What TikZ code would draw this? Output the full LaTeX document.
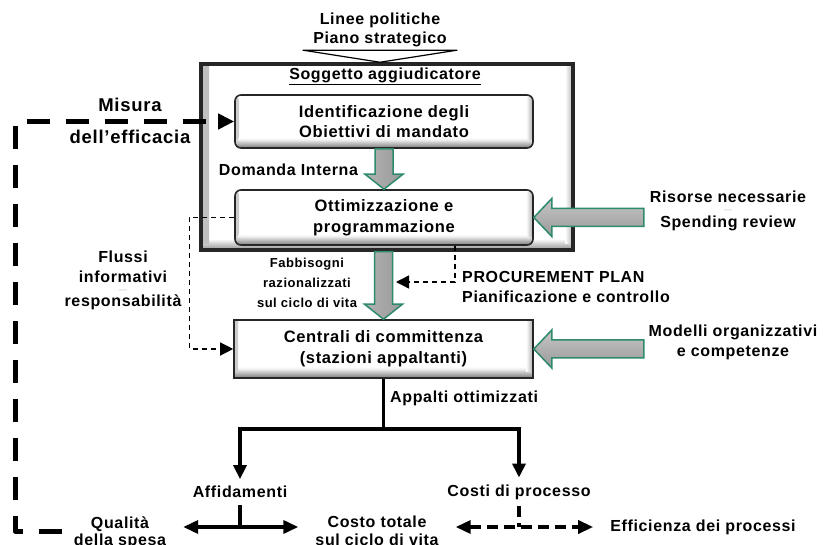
\documentclass[tikz,border=0pt]{standalone}
\usepackage{fontspec}
\setmainfont{Liberation Sans}[LetterSpace=4]
\usetikzlibrary{arrows.meta,calc}

\definecolor{arrowgreen}{RGB}{46,138,110}
\definecolor{boxline}{RGB}{38,38,38}

\pgfdeclareverticalshading{bevel}{100bp}{color(0bp)=(gray!95!black); color(25bp)=(gray!95!black); color(28bp)=(gray!70); color(33bp)=(gray!10); color(35bp)=(white); color(100bp)=(white)}
\pgfdeclareverticalshading{outerbevel}{100bp}{color(0bp)=(gray!85); color(25bp)=(gray!85); color(26.5bp)=(gray!45); color(28bp)=(white); color(100bp)=(white)}

\tikzset{
  lbl/.style={font=\bfseries\fontsize{16}{20}\selectfont, align=center, inner sep=1pt},
  smalllbl/.style={font=\bfseries\fontsize{13}{20}\selectfont, align=center, inner sep=1pt},
  tinydash/.style={font=\fontsize{8}{8}\selectfont, text=gray!50, inner sep=0pt},
  bevelbox/.style={draw=boxline, line width=1.6pt, rounded corners=6pt, shading=bevel,
    minimum width=298pt, align=center, font=\bfseries\fontsize{16.5}{20}\selectfont,
    path picture={
      \shade[left color=gray!40, right color=white] (path picture bounding box.north west) rectangle ([xshift=4pt,yshift=6pt]path picture bounding box.south west);
      \shade[left color=white, right color=gray!65] ([xshift=-7pt]path picture bounding box.north east) rectangle ([yshift=6pt]path picture bounding box.south east);}},
  outerbox/.style={draw=boxline, line width=3.5pt, shading=outerbevel, minimum width=372pt, minimum height=186pt,
    path picture={
      \shade[left color=gray!50, right color=white] (path picture bounding box.north west) rectangle ([xshift=8pt,yshift=6pt]path picture bounding box.south west);
      \shade[left color=white, right color=gray!60] ([xshift=-8pt]path picture bounding box.north east) rectangle ([yshift=6pt]path picture bounding box.south east);}},
  fatdown/.style={draw=arrowgreen, line width=1.5pt, left color=gray!60, middle color=gray!8, right color=gray!80,
    to path={($(\tikztostart)+(-9,0)$) -- ($(\tikztostart)+(9,0)$) -- ($(\tikztotarget)+(9,15)$) -- ($(\tikztotarget)+(19,15)$) -- (\tikztotarget) -- ($(\tikztotarget)+(-19,15)$) -- ($(\tikztotarget)+(-9,15)$) -- cycle}},
  fatleft/.style={draw=arrowgreen, line width=1.5pt, top color=gray!45, middle color=gray!8, bottom color=gray!80,
    to path={($(\tikztostart)+(0,9)$) -- ($(\tikztostart)+(0,-9)$) -- ($(\tikztotarget)+(18,-9)$) -- ($(\tikztotarget)+(18,-19)$) -- (\tikztotarget) -- ($(\tikztotarget)+(18,19)$) -- ($(\tikztotarget)+(18,9)$) -- cycle}},
  thindash/.style={line width=1.3pt, dash pattern=on 5pt off 4pt, -{Triangle[length=13pt,width=13pt]}},
  thickdash/.style={line width=5pt, dash pattern=on 23pt off 16pt, line join=round, -{Triangle[length=16pt,width=15pt]}},
  thickline/.style={line width=3.5pt},
  dashline/.style={line width=3.5pt, dash pattern=on 11pt off 6pt},
  downtip/.style={-{Triangle[length=14pt,width=13pt]}},
  bothtips/.style={{Triangle[length=15pt,width=13pt]}-{Triangle[length=15pt,width=13pt]}},
}

\begin{document}
\begin{tikzpicture}[x=1pt,y=1pt]
\path[use as bounding box, fill=white] (0,0) rectangle (825,544);

% top: soggetto aggiudicatore
\node[lbl, font=\bfseries\fontsize{16}{19}\selectfont] (linee) at (380,514) {Linee politiche\\Piano strategico};
\node[outerbox] (sogg) at (387,387) {};
\draw[line width=1.2pt, line join=round] ($(linee.south)+(-77,-2)$) -- ($(linee.south)+(77,-2)$) -- (linee.south |- sogg.north) -- cycle;
\node[lbl] (titolo) at (385,468) {\underline{Soggetto aggiudicatore}};
\node[bevelbox, minimum height=53pt] (box1) at (384,422.5) {Identificazione degli\\Obiettivi di mandato};
\node[bevelbox, minimum height=55pt, font=\bfseries\fontsize{16.5}{21}\selectfont] (box2) at (384,326.5) {Ottimizzazione e\\programmazione};
\node[bevelbox, sharp corners, minimum height=58pt, minimum width=299pt, font=\bfseries\fontsize{16.5}{21}\selectfont] (box3) at (383.5,195) {Centrali di committenza\\(stazioni appaltanti)};

% labels
\node[lbl] (domanda) at (288.5,374) {Domanda Interna};
\node[smalllbl] (fabb) at (307,261) {Fabbisogni\\razionalizzati\\sul ciclo di vita};
\node[lbl, align=left, anchor=west] (proc) at (461,257) {PROCUREMENT PLAN\\Pianificazione e controllo};
\node[lbl] (risorse) at (728,333.5) {Risorse necessarie\\[5pt]Spending review};
\node[tinydash] (risdash) at (728,333) {---};
\node[lbl] (modelli) at (733,202) {Modelli organizzativi\\e competenze};
\node[lbl] (flussi) at (123,264) {Flussi\\informativi\\[4pt]responsabilità};
\node[tinydash] (flussidash) at (123,253) {---};
\node[lbl, font=\bfseries\fontsize{18.5}{20}\selectfont] (misura) at (130,423) {Misura\\[12pt]dell’efficacia};

% green arrows
\draw[fatdown] (box1.south) to (box2.north);
\draw[fatdown] (box3.north |- sogg.south) to (box3.north);
\coordinate (ris0) at ($(box2.east)+(110,0)$);
\coordinate (mod0) at ($(box3.east)+(110,0)$);
\draw[fatleft] (ris0) to (box2.east);
\draw[fatleft] (mod0) to (box3.east);

% dashed flows
\coordinate (plan) at (396,262);
\draw[thindash] ($(box2.south)+(71,0)$) |- (plan);
\draw[thindash] (box2.west) -- ++(-45,0) |- (box3.west);
\coordinate (q0) at (62,13);
\draw[thickdash] (q0) -- ++(-47,0) |- (box1.west);

% bottom
\node[lbl, anchor=west] (appalti) at (389,146) {Appalti ottimizzati};
\node[lbl, outer sep=6pt] (affid) at (240,52) {Affidamenti};
\node[lbl, outer sep=6pt] (costi) at (519,52) {Costi di processo};
\node[lbl, inner xsep=17pt, font=\bfseries\fontsize{16}{17}\selectfont] (qual) at (120,11) {Qualità\\della spesa};
\node[lbl, inner xsep=17pt, font=\bfseries\fontsize{16}{18}\selectfont] (costo) at (377,13) {Costo totale\\sul ciclo di vita};
\node[lbl, inner xsep=17pt] (eff) at (703,17) {Efficienza dei processi};

\draw[thickline] (box3.south) -- ++(0,-50) coordinate (split);
\draw[thickline, downtip] (split) -| (affid.north);
\draw[thickline, downtip] (split) -| (costi.north);
\coordinate (aff0) at (240,17);
\draw[thickline] (affid.south) -- (aff0);
\draw[thickline, bothtips] (qual.east |- aff0) -- (costo.west |- aff0);
\draw[dashline] (costi.south) -- (costi.south |- aff0);
\draw[dashline, bothtips] (costo.east |- aff0) -- (eff.west);
\end{tikzpicture}
\end{document}
